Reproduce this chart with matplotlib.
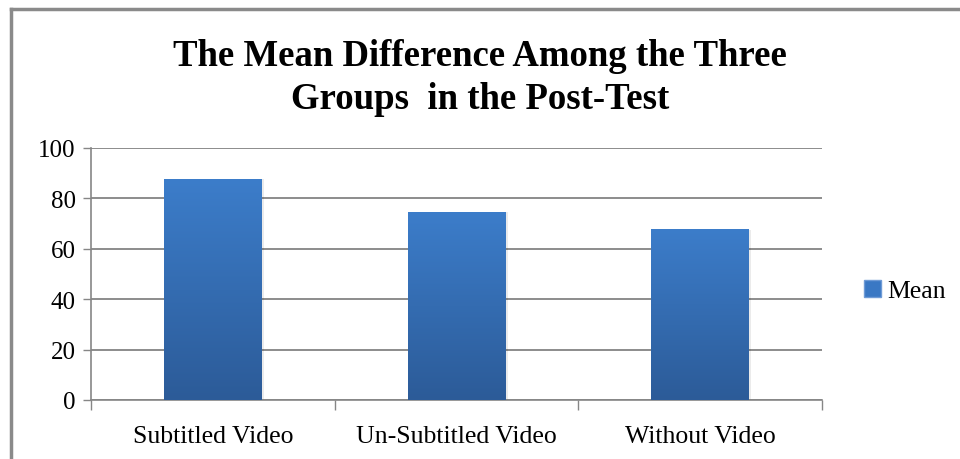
import matplotlib.pyplot as plt
import numpy as np
from matplotlib.colors import LinearSegmentedColormap
from matplotlib.lines import Line2D
from matplotlib.patches import Patch

categories = ['Subtitled Video', 'Un-Subtitled Video', 'Without Video']
means = [87.5, 74.5, 67.5]
yticks = [0, 20, 40, 60, 80, 100]

plt.rcParams['font.family'] = ['Liberation Serif', 'DejaVu Serif']

fig = plt.figure(figsize=(9.6, 4.6), dpi=100)
ax = fig.add_axes([0.0948, 0.1283, 0.7615, 0.5478])

x = np.arange(len(categories))
grad = LinearSegmentedColormap.from_list('bar', ['#2c5b98', '#3c7dca'])
bars = ax.bar(x, means, width=0.4, color='none', zorder=3)
for b in bars:
    x0, y0 = b.get_x(), b.get_y()
    w, h = b.get_width(), b.get_height()
    ax.imshow(np.linspace(0, 1, 256).reshape(-1, 1), cmap=grad, origin='lower',
              aspect='auto', extent=[x0, x0 + w, y0, y0 + h], zorder=3)
    # soft shadow
    ax.bar(x0 + w / 2 + 0.01, h, width=w, bottom=y0, color='#000000', alpha=0.08, zorder=2)

ax.set_xlim(-0.5, len(categories) - 0.5)
ax.set_ylim(0, 100)
ax.set_yticks(yticks)
ax.set_xticks(x)
ax.set_xticklabels(categories, fontsize=18.5)
ax.tick_params(axis='y', labelsize=18, length=6, width=1, color='#868686', pad=5)
ax.tick_params(axis='x', length=0, pad=18)
# tick marks at category boundaries
ax.set_xticks(np.arange(-0.5, len(categories)), minor=True)
ax.tick_params(axis='x', which='minor', length=7, width=1, color='#868686')

ax.grid(axis='y', color='#8c8c8c', linewidth=1.4, zorder=0)
ax.set_axisbelow(True)
for side in ['top', 'right']:
    ax.spines[side].set_visible(False)
for side in ['left', 'bottom']:
    ax.spines[side].set_color('#868686')
    ax.spines[side].set_linewidth(1.2)

fig.text(0.5, 0.83, 'The Mean Difference Among the Three\nGroups  in the Post-Test',
         ha='center', va='center', fontsize=26.5, fontweight='bold', linespacing=1.3)

handle = Patch(facecolor='#3a78c4', edgecolor='#6f9bd6')
fig.legend([handle], ['Mean'], loc='center left', bbox_to_anchor=(0.887, 0.365),
           frameon=False, fontsize=18.5, handlelength=0.65, handleheight=0.65,
           handletextpad=0.25, borderpad=0)

# chart area border
fig.add_artist(Line2D([11 / 960, 1], [1 - 10 / 460] * 2, color='#8a8a8a', linewidth=2.5))
fig.add_artist(Line2D([11 / 960] * 2, [0, 1 - 10 / 460], color='#8a8a8a', linewidth=2.5))

fig.savefig('out.png', dpi=100)
